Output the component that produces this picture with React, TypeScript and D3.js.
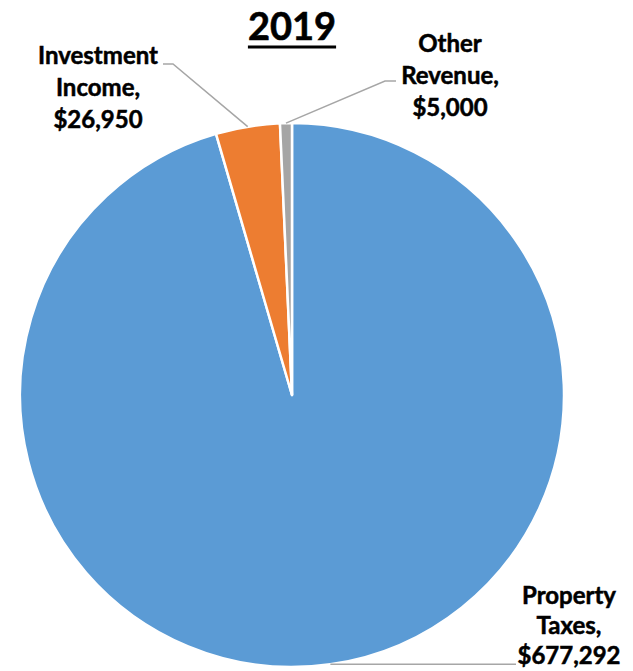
import React, { useEffect, useRef } from "react";
import * as d3 from "d3";

const categories = ["Property Taxes", "Investment Income", "Other Revenue"];
const values = [677292, 26950, 5000];
const labelLines = [
  ["Property", "Taxes,", "$677,292"],
  ["Investment", "Income,", "$26,950"],
  ["Other", "Revenue,", "$5,000"],
];
const colors = ["#5B9BD5", "#ED7D31", "#A5A5A5"];
const title = "2019";

const W = 633;
const H = 671;
const cx = 292;
const cy = 395;
const R = 272;
const FONT = "Lato, 'Open Sans', sans-serif";

export default function App() {
  const ref = useRef<SVGSVGElement>(null);

  useEffect(() => {
    const svg = d3.select(ref.current);
    svg.selectAll("*").remove();

    const data = categories.map((c, i) => ({ name: c, value: values[i], lines: labelLines[i], color: colors[i] }));
    const pie = d3.pie<any>().sort(null).value((d) => d.value);
    const arcs = pie(data);
    const arcGen = d3.arc<any>().innerRadius(0).outerRadius(R);

    const g = svg.append("g").attr("transform", `translate(${cx},${cy})`);
    g.selectAll("path")
      .data(arcs)
      .join("path")
      .attr("d", arcGen as any)
      .attr("fill", (d: any) => d.data.color)
      .attr("stroke", "#fff")
      .attr("stroke-width", 2.5)
      .attr("stroke-linejoin", "round");

    const pt = (a: number, r: number) => [cx + r * Math.sin(a), cy - r * Math.cos(a)];

    const labelPos = [
      { x: 569, y: 604, lh: 30 },
      { x: 98, y: 64, lh: 32 },
      { x: 450, y: 52, lh: 32 },
    ];
    const leaders = [
      (p: number[]) => [p, [516, p[1]]],
      (p: number[]) => [p, [173, 64], [163, 64]],
      (p: number[]) => [p, [385, 81], [396, 81]],
    ];

    arcs.forEach((a: any, i: number) => {
      const mid = (a.startAngle + a.endAngle) / 2;
      const p = pt(mid, R);
      const pts = leaders[i](p);
      svg
        .append("path")
        .attr("d", d3.line()(pts as any) as string)
        .attr("fill", "none")
        .attr("stroke", "#A6A6A6")
        .attr("stroke-width", 1.5);

      const lp = labelPos[i];
      const t = svg
        .append("text")
        .attr("font-family", FONT)
        .attr("font-weight", 700)
        .attr("font-size", 24)
        .attr("fill", "#000")
        .attr("stroke", "#000")
        .attr("stroke-width", 0.5)
        .attr("text-anchor", "middle");
      a.data.lines.forEach((ln: string, j: number) => {
        t.append("tspan").attr("x", lp.x).attr("y", lp.y + j * lp.lh).text(ln);
      });
    });

    const tt = svg
      .append("text")
      .attr("x", cx)
      .attr("y", 40)
      .attr("font-family", FONT)
      .attr("font-weight", 700)
      .attr("font-size", 38)
      .attr("text-anchor", "middle")
      .attr("fill", "#000")
      .attr("stroke", "#000")
      .attr("stroke-width", 0.6)
      .text(title);
    const tw = (tt.node() as SVGTextElement).getComputedTextLength();
    svg
      .append("rect")
      .attr("x", cx - tw / 2)
      .attr("y", 45.5)
      .attr("width", tw)
      .attr("height", 3)
      .attr("fill", "#000");
  }, []);

  return (
    <svg
      ref={ref}
      width={W}
      height={H}
      style={{ position: "absolute", left: 0, top: 0, background: "#fff" }}
    />
  );
}
